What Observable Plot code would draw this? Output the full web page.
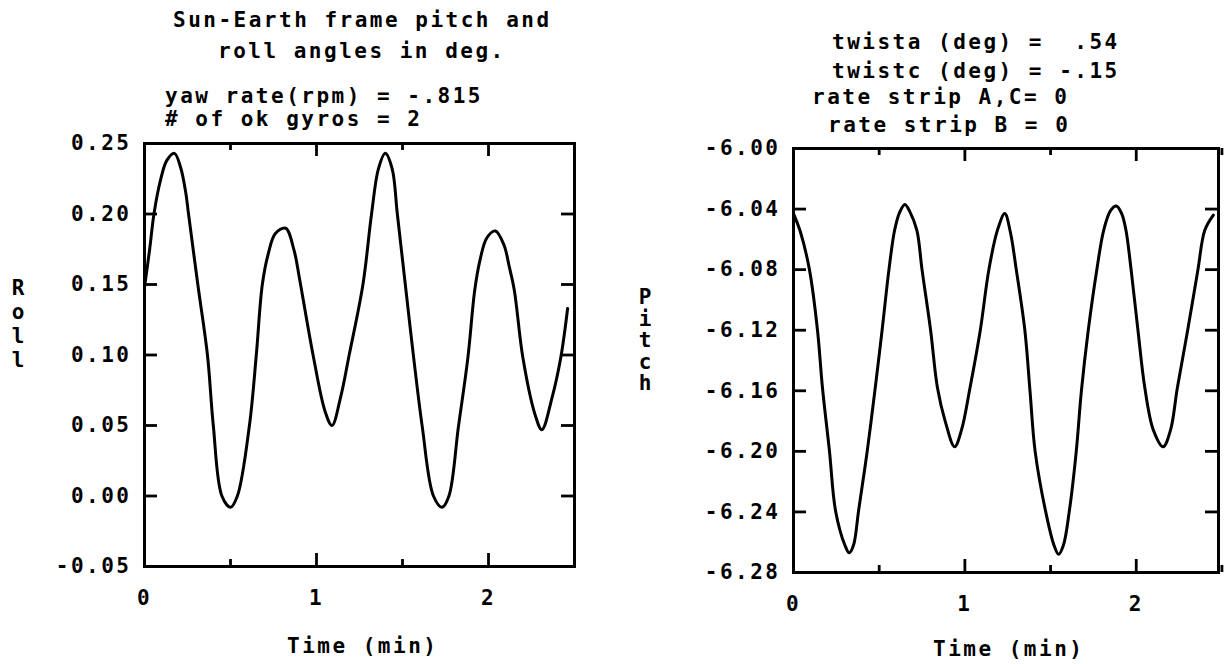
<!DOCTYPE html>
<html><head><meta charset="utf-8">
<script src="https://cdn.jsdelivr.net/npm/d3@7"></script>
<script src="https://cdn.jsdelivr.net/npm/@observablehq/plot@0.6"></script>
<style>
body{margin:0;background:#fff;}
#root{position:relative;width:1229px;height:664px;overflow:hidden;background:#fff;color:#000;
  font-family:"DejaVu Sans Mono",monospace;font-weight:bold;font-size:21px;letter-spacing:2.5px;}
.t{position:absolute;white-space:pre;line-height:21px;}
.v{position:absolute;white-space:pre;letter-spacing:0;text-align:center;width:14px;}
.p{position:absolute;}
</style></head><body><div id="root"></div>
<script>
// ---- data ----
const rollTime  = [0.00,0.03,0.055,0.093,0.13,0.174,0.21,0.24,0.256,0.31,0.366,0.40,0.45,0.50,0.54,0.61,0.65,0.685,0.72,0.76,0.82,0.87,0.90,0.98,1.05,1.09,1.14,1.19,1.27,1.32,1.36,1.40,1.44,1.47,1.52,1.565,1.615,1.68,1.73,1.77,1.825,1.88,1.92,1.95,1.99,2.04,2.09,2.12,2.15,2.20,2.27,2.31,2.37,2.42,2.46];
const rollValue = [0.148,0.175,0.20,0.224,0.238,0.243,0.233,0.215,0.20,0.15,0.10,0.05,0.00,-0.008,0.00,0.05,0.10,0.15,0.172,0.186,0.19,0.174,0.155,0.10,0.06,0.05,0.07,0.10,0.15,0.20,0.232,0.243,0.232,0.20,0.146,0.098,0.049,0.00,-0.008,0.00,0.049,0.098,0.146,0.167,0.183,0.188,0.178,0.163,0.146,0.098,0.058,0.047,0.07,0.098,0.133];

const pitchTime  = [0.00,0.04,0.093,0.14,0.169,0.21,0.245,0.30,0.325,0.35,0.38,0.43,0.477,0.517,0.557,0.59,0.62,0.65,0.68,0.72,0.75,0.80,0.84,0.885,0.94,0.98,1.03,1.09,1.14,1.19,1.233,1.265,1.30,1.35,1.38,1.41,1.47,1.52,1.547,1.575,1.61,1.65,1.68,1.72,1.77,1.81,1.85,1.884,1.915,1.94,1.97,2.01,2.05,2.10,2.157,2.20,2.24,2.30,2.36,2.40,2.45];
const pitchValue = [-6.043,-6.055,-6.08,-6.12,-6.158,-6.20,-6.239,-6.262,-6.267,-6.262,-6.239,-6.20,-6.158,-6.12,-6.08,-6.054,-6.042,-6.037,-6.042,-6.054,-6.08,-6.12,-6.158,-6.18,-6.197,-6.186,-6.158,-6.12,-6.08,-6.054,-6.043,-6.055,-6.08,-6.12,-6.16,-6.20,-6.239,-6.262,-6.268,-6.262,-6.239,-6.20,-6.16,-6.12,-6.08,-6.054,-6.041,-6.038,-6.043,-6.054,-6.08,-6.12,-6.158,-6.186,-6.197,-6.186,-6.158,-6.12,-6.08,-6.054,-6.044];

const rollTicks = [-0.05,0.00,0.05,0.10,0.15,0.20,0.25];
const rollTickLabels = ["-0.05","0.00","0.05","0.10","0.15","0.20","0.25"];
const pitchTicks = [-6.28,-6.24,-6.20,-6.16,-6.12,-6.08,-6.04,-6.00];
const pitchTickLabels = ["-6.28","-6.24","-6.20","-6.16","-6.12","-6.08","-6.04","-6.00"];
const timeTicks = [0,1,2];
const timeTickLabels = ["0","1","2"];
const timeMinorTicks = [0.5,1.5,2.5];

const leftTitle = ["Sun-Earth frame pitch and","roll angles in deg.","yaw rate(rpm) = -.815","# of ok gyros = 2"];
const rightTitle = ["twista (deg) =  .54","twistc (deg) = -.15","rate strip A,C= 0","rate strip B = 0"];
const xLabel = "Time (min)";
const rollLabel = "Roll";
const pitchLabel = "Pitch";

// ---- drawing ----
const root = document.getElementById("root");
function panel(cfg) {
  const data = cfg.time.map((t, i) => ({t, v: cfg.value[i]}));
  const fw = cfg.width - cfg.ml - cfg.mr, fh = cfg.height - cfg.mt - cfg.mb;
  const ylab = new Map(cfg.yTicks.map((d, i) => [d, cfg.yLabels[i]]));
  const xlab = new Map(timeTicks.map((d, i) => [d, timeTickLabels[i]]));
  const svg = Plot.plot({
    width: cfg.width, height: cfg.height,
    marginLeft: cfg.ml, marginRight: cfg.mr, marginTop: cfg.mt, marginBottom: cfg.mb,
    x: {domain: cfg.xDomain},
    y: {domain: cfg.yDomain},
    style: {fontFamily: '"DejaVu Sans Mono", monospace', fontSize: "21px", fontWeight: "bold",
            letterSpacing: "2.5px", color: "black", background: "white", overflow: "visible"},
    marks: [
      Plot.tickY(cfg.yTicks, {y: d => d, insetRight: fw - 13, strokeWidth: 2.8, stroke: "black"}),
      Plot.tickY(cfg.yTicks, {y: d => d, insetLeft: fw - 13, strokeWidth: 2.8, stroke: "black"}),
      Plot.tickX(timeTicks, {x: d => d, insetTop: fh - 13, strokeWidth: 2.8, stroke: "black"}),
      Plot.tickX(timeTicks, {x: d => d, insetBottom: fh - 13, strokeWidth: 2.8, stroke: "black"}),
      Plot.tickX(timeMinorTicks, {x: d => d, insetTop: fh - 7, strokeWidth: 2.8, stroke: "black"}),
      Plot.tickX(timeMinorTicks, {x: d => d, insetBottom: fh - 7, strokeWidth: 2.8, stroke: "black"}),
      Plot.line(data, {x: "t", y: "v", curve: "catmull-rom", stroke: "black", strokeWidth: 3}),
      Plot.frame({stroke: "black", strokeWidth: 3}),
      Plot.axisY({ticks: cfg.yTicks, tickSize: 0, tickPadding: 13, tickFormat: d => ylab.get(d), label: null}),
      Plot.axisX({ticks: timeTicks, tickSize: 0, tickPadding: 24, tickFormat: d => xlab.get(d), label: null})
    ]
  });
  const wrap = document.createElement("div");
  wrap.className = "p";
  wrap.style.left = cfg.left + "px"; wrap.style.top = cfg.top + "px";
  wrap.style.width = cfg.width + "px"; wrap.style.height = cfg.height + "px";
  wrap.appendChild(svg);
  root.appendChild(wrap);
}
panel({time: rollTime, value: rollValue, yDomain: [-0.05, 0.25], yTicks: rollTicks, yLabels: rollTickLabels,
       xDomain: [0, 2.5], left: 0, top: 100, width: 600, height: 564, ml: 144, mr: 26, mt: 43, mb: 98});
panel({time: pitchTime, value: pitchValue, yDomain: [-6.28, -6.00], yTicks: pitchTicks, yLabels: pitchTickLabels,
       xDomain: [0, 2.48], left: 620, top: 100, width: 609, height: 564, ml: 173, mr: 11, mt: 48, mb: 92});

function text(str, x, y) {
  const d = document.createElement("div");
  d.className = "t"; d.textContent = str;
  d.style.left = x + "px"; d.style.top = y + "px";
  root.appendChild(d);
}
text(leftTitle[0], 173, 10);
text(leftTitle[1], 218, 41);
text(leftTitle[2], 165, 86);
text(leftTitle[3], 165, 109);
text(rightTitle[0], 832, 32);
text(rightTitle[1], 832, 61);
text(rightTitle[2], 812, 87);
text(rightTitle[3], 828, 115);
text(xLabel, 287, 636);
text(xLabel, 933, 639);
function vertical(str, cx, top, step) {
  const d = document.createElement("div");
  d.className = "v"; d.textContent = [...str].join("\n");
  d.style.lineHeight = step + "px";
  d.style.left = (cx - 7) + "px"; d.style.top = top + "px";
  root.appendChild(d);
}
vertical(rollLabel, 18, 276, 24);
vertical(pitchLabel, 645, 287, 21.5);
</script></body></html>
